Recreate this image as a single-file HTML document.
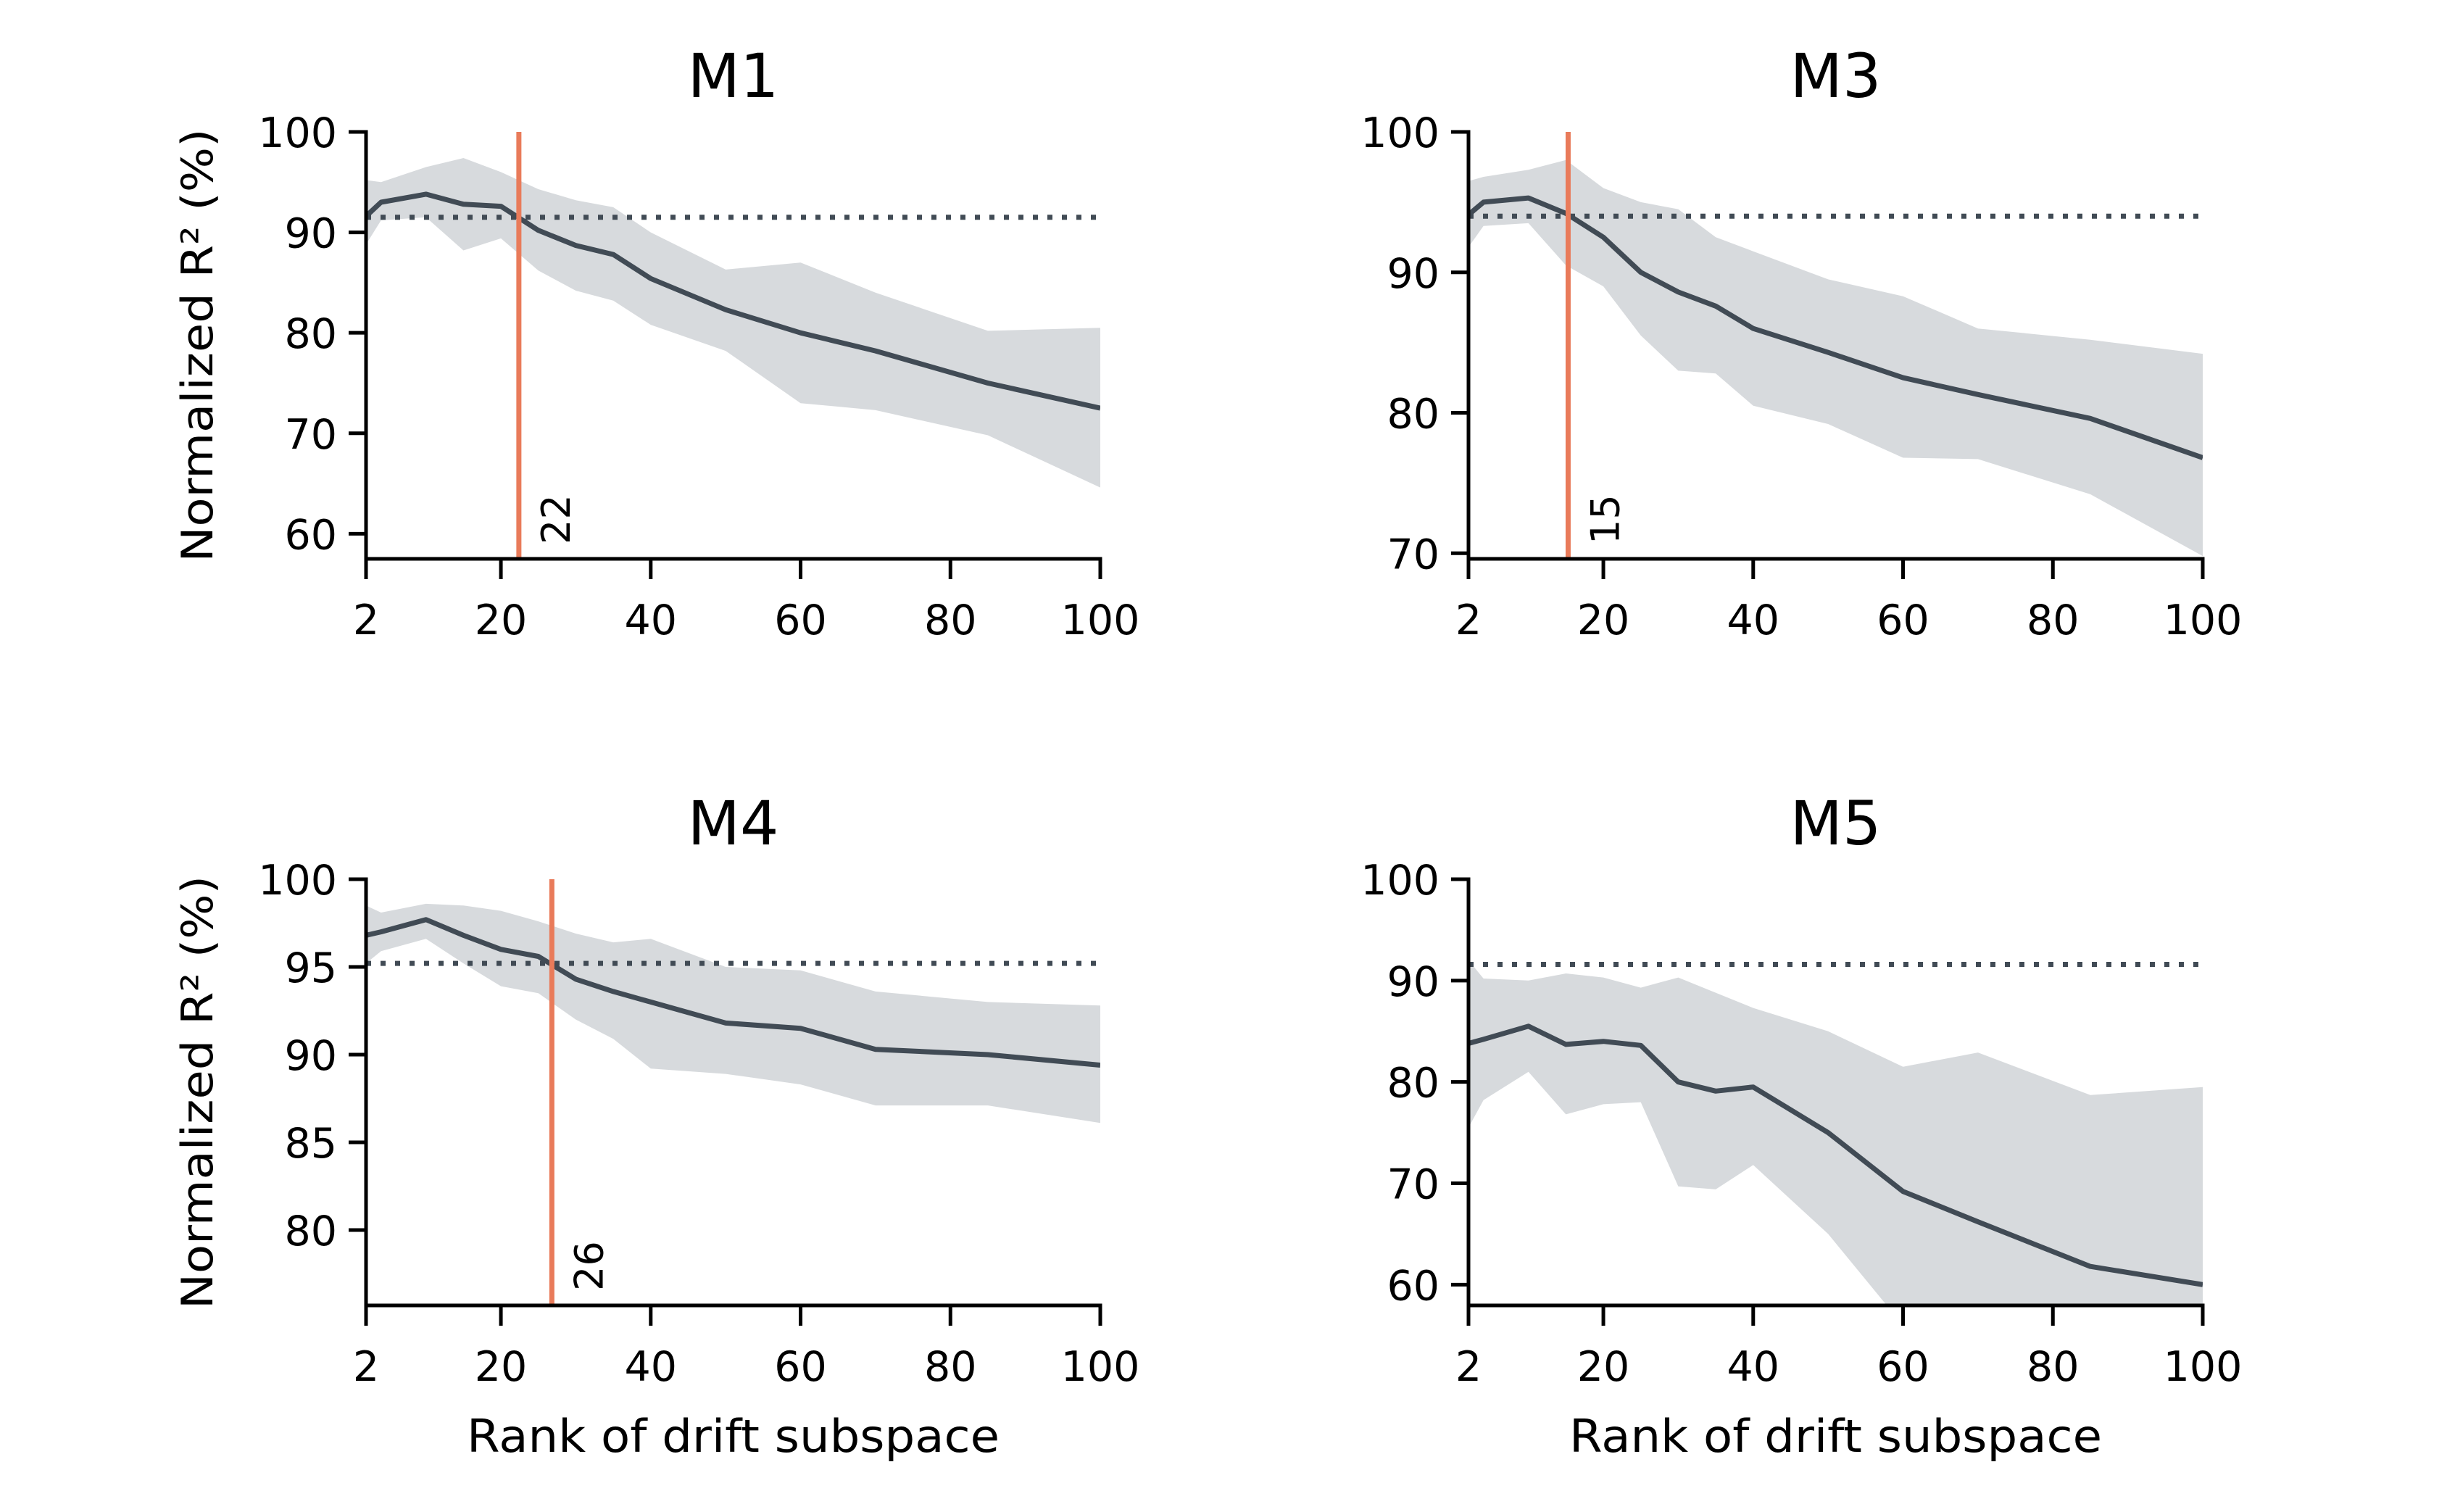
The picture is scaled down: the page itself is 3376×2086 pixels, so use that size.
<!DOCTYPE html>
<html><head><meta charset="utf-8">
<style>
html,body{margin:0;padding:0;background:#fff;}
svg{display:block;font-family:"DejaVu Sans","Liberation Sans",sans-serif;}
</style></head>
<body>
<svg id="chart" width="3376" height="2086" viewBox="0 0 3376 2086" xmlns="http://www.w3.org/2000/svg">
<rect width="3376" height="2086" fill="#fff"/>
<defs id="defs"></defs>
</svg>
<script>
const ranks = [2,4,10,15,20,25,30,35,40,50,60,70,85,100];
const xTicks = [2,20,40,60,80,100];

const m1Mean  = [91.6,93.0,93.8,92.8,92.6,90.2,88.7,87.8,85.4,82.3,80.0,78.2,75.0,72.5];
const m1Upper = [95.2,95.0,96.5,97.4,96.0,94.3,93.2,92.5,90.0,86.3,87.0,84.0,80.2,80.5];
const m1Lower = [88.8,91.2,91.5,88.2,89.4,86.2,84.2,83.2,80.8,78.2,73.0,72.3,69.8,64.6];
const m1Ref = 91.5, m1Cut = 22.4, m1CutLabel = "22";
const m1Ticks = [60,70,80,90,100];

const m3Mean  = [94.1,95.0,95.3,94.2,92.5,90.0,88.6,87.6,86.0,84.3,82.5,81.3,79.6,76.8];
const m3Upper = [96.5,96.8,97.3,98.0,96.0,95.0,94.5,92.5,91.5,89.5,88.3,86.0,85.2,84.2];
const m3Lower = [91.8,93.3,93.5,90.5,89.0,85.5,83.0,82.8,80.5,79.2,76.8,76.7,74.2,69.8];
const m3Ref = 94.0, m3Cut = 15.3, m3CutLabel = "15";
const m3Ticks = [70,80,90,100];

const m4Mean  = [96.8,97.0,97.7,96.8,96.0,95.6,94.3,93.6,93.0,91.8,91.5,90.3,90.0,89.4];
const m4Upper = [98.5,98.1,98.6,98.5,98.2,97.6,96.9,96.4,96.6,95.0,94.8,93.6,93.0,92.8];
const m4Lower = [95.2,95.9,96.6,95.2,93.9,93.5,92.0,90.9,89.2,88.9,88.3,87.1,87.1,86.1];
const m4Ref = 95.2, m4Cut = 26.8, m4CutLabel = "26";
const m4Ticks = [80,85,90,95,100];

const m5Mean  = [83.8,84.2,85.5,83.7,84.0,83.6,80.0,79.1,79.5,75.0,69.2,66.2,61.8,60.0];
const m5Upper = [92.0,90.2,90.0,90.7,90.3,89.3,90.3,88.8,87.3,85.0,81.5,82.9,78.7,79.5];
const m5Lower = [75.5,78.2,81.0,76.8,77.8,78.0,69.7,69.4,71.8,65.0,56.0,52.0,48.0,46.0];
const m5Ref = 91.6;
const m5Ticks = [60,70,80,90,100];

const NS = "http://www.w3.org/2000/svg";
const svg = document.getElementById('chart');
const defs = document.getElementById('defs');
function mk(tag, attrs, parent){
  const e = document.createElementNS(NS, tag);
  for (const k in attrs) e.setAttribute(k, attrs[k]);
  (parent||svg).appendChild(e);
  return e;
}

const panels = [
  {key:'m1', title:'M1', L:505, T:182, B:771, ymin:57.5, mean:m1Mean, up:m1Upper, lo:m1Lower, ref:m1Ref, cut:m1Cut, cutLabel:m1CutLabel, ticks:m1Ticks, ylabel:true, xlabel:false},
  {key:'m3', title:'M3', L:2026, T:182, B:771, ymin:69.6, mean:m3Mean, up:m3Upper, lo:m3Lower, ref:m3Ref, cut:m3Cut, cutLabel:m3CutLabel, ticks:m3Ticks, ylabel:false, xlabel:false},
  {key:'m4', title:'M4', L:505, T:1213, B:1801, ymin:75.7, mean:m4Mean, up:m4Upper, lo:m4Lower, ref:m4Ref, cut:m4Cut, cutLabel:m4CutLabel, ticks:m4Ticks, ylabel:true, xlabel:true},
  {key:'m5', title:'M5', L:2026, T:1213, B:1801, ymin:57.95, mean:m5Mean, up:m5Upper, lo:m5Lower, ref:m5Ref, cut:null, ticks:m5Ticks, ylabel:false, xlabel:true}
];
const W = 1013;

panels.forEach(p => {
  const g = mk('g', {});
  
  
  const xs = v => p.L + (v - 2) / 98 * W;
  const ys = v => p.B - (v - p.ymin) / (100 - p.ymin) * (p.B - p.T);

  const cp = mk('clipPath', {id:'clip-' + p.key}, defs);
  mk('rect', {x:p.L, y:p.T, width:W, height:p.B - p.T}, cp);

  // band
  let d = '';
  ranks.forEach((r,i) => { d += (i ? 'L' : 'M') + xs(r).toFixed(1) + ',' + ys(p.up[i]).toFixed(1); });
  for (let i = ranks.length - 1; i >= 0; i--) d += 'L' + xs(ranks[i]).toFixed(1) + ',' + ys(p.lo[i]).toFixed(1);
  const band = mk('path', {d:d + 'Z', fill:'#d7dadd', 'clip-path':'url(#clip-' + p.key + ')'}, g);
  
  

  // reference dotted
  const ref = mk('line', {x1:p.L, x2:p.L + W, y1:ys(p.ref), y2:ys(p.ref), stroke:'#414b55', 'stroke-width':7, 'stroke-dasharray':'7 13'}, g);
  
  

  // mean line
  let ld = '';
  ranks.forEach((r,i) => { ld += (i ? 'L' : 'M') + xs(r).toFixed(1) + ',' + ys(p.mean[i]).toFixed(1); });
  const ml = mk('path', {d:ld, fill:'none', stroke:'#414b55', 'stroke-width':7, 'stroke-linejoin':'round', 'clip-path':'url(#clip-' + p.key + ')'}, g);
  
  

  // cutoff
  if (p.cut !== null) {
    const cx = xs(p.cut);
    const vl = mk('line', {x1:cx, x2:cx, y1:p.T, y2:p.B, stroke:'#e97b5a', 'stroke-width':7}, g);
    
    
    const ct = mk('text', {transform:'translate(' + (cx + 70) + ',' + (p.B - 20) + ') rotate(-90)', 'font-size':54, fill:'#000'}, g);
    ct.textContent = p.cutLabel;
    
    
  }

  // spines
  const sp = mk('path', {d:'M' + p.L + ',' + p.T + 'V' + p.B + 'H' + (p.L + W), fill:'none', stroke:'#000', 'stroke-width':5, 'stroke-linecap':'square'}, g);
  
  

  // y ticks
  p.ticks.forEach(t => {
    const y = ys(t);
    const tk = mk('line', {x1:p.L - 24, x2:p.L, y1:y, y2:y, stroke:'#000', 'stroke-width':5}, g);
    
    
    const tl = mk('text', {x:p.L - 40, y:y + 21, 'text-anchor':'end', 'font-size':57, fill:'#000'}, g);
    tl.textContent = t;
    
    
  });
  // x ticks
  xTicks.forEach(t => {
    const x = xs(t);
    const tk = mk('line', {x1:x, x2:x, y1:p.B, y2:p.B + 28, stroke:'#000', 'stroke-width':5}, g);
    
    
    const tl = mk('text', {x:x, y:p.B + 104, 'text-anchor':'middle', 'font-size':57, fill:'#000'}, g);
    tl.textContent = t;
    
    
  });

  // title
  const tt = mk('text', {x:p.L + W / 2, y:p.T - 48, 'text-anchor':'middle', 'font-size':84, fill:'#000'}, g);
  tt.textContent = p.title;
  
  

  if (p.ylabel) {
    const yl = mk('text', {transform:'translate(' + 293 + ',' + ((p.T + p.B) / 2) + ') rotate(-90)', 'text-anchor':'middle', 'font-size':60, fill:'#000', textLength:598, lengthAdjust:'spacingAndGlyphs'}, g);
    yl.textContent = 'Normalized R² (%)';
    
    
  }
  if (p.xlabel) {
    const xl = mk('text', {x:p.L + W / 2, y:p.B + 202, 'text-anchor':'middle', 'font-size':62, fill:'#000', textLength:735, lengthAdjust:'spacingAndGlyphs'}, g);
    xl.textContent = 'Rank of drift subspace';
    
    
  }
});
</script>
</body></html>
